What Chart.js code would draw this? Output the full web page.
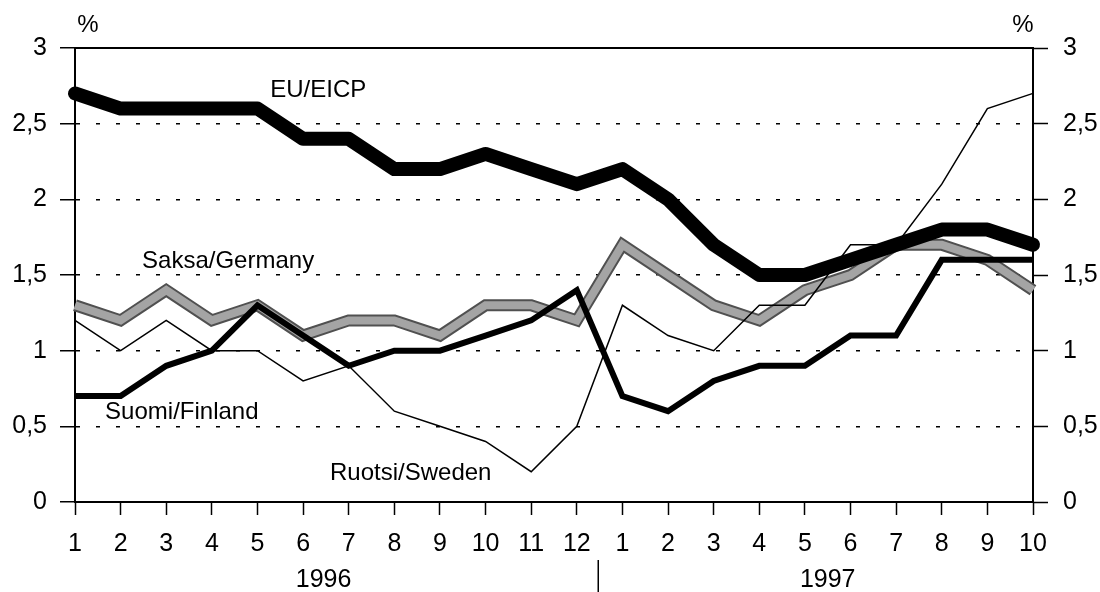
<!DOCTYPE html>
<html>
<head>
<meta charset="utf-8">
<script src="https://cdn.jsdelivr.net/npm/chart.js@4.4.0/dist/chart.umd.min.js"></script>
<style>
  html, body { margin: 0; padding: 0; background: #fff; }
  #wrap { width: 1100px; height: 592px; }
</style>
</head>
<body>
<div id="wrap"><canvas id="myChart" width="1100" height="592"></canvas></div>
<script>
// months 1996/1 .. 1997/10
const months = ['1','2','3','4','5','6','7','8','9','10','11','12',
                '1','2','3','4','5','6','7','8','9','10'];
const years = ['1996', '1997'];
const yTicks = [0, 0.5, 1, 1.5, 2, 2.5, 3];

const euEicp  = [2.7, 2.6, 2.6, 2.6, 2.6, 2.4, 2.4, 2.2, 2.2, 2.3, 2.2, 2.1,
                 2.2, 2.0, 1.7, 1.5, 1.5, 1.6, 1.7, 1.8, 1.8, 1.7];
const germany = [1.3, 1.2, 1.4, 1.2, 1.3, 1.1, 1.2, 1.2, 1.1, 1.3, 1.3, 1.2,
                 1.7, 1.5, 1.3, 1.2, 1.4, 1.5, 1.7, 1.7, 1.6, 1.4];
const finland = [0.7, 0.7, 0.9, 1.0, 1.3, 1.1, 0.9, 1.0, 1.0, 1.1, 1.2, 1.4,
                 0.7, 0.6, 0.8, 0.9, 0.9, 1.1, 1.1, 1.6, 1.6, 1.6];
const sweden  = [1.2, 1.0, 1.2, 1.0, 1.0, 0.8, 0.9, 0.6, 0.5, 0.4, 0.2, 0.5,
                 1.3, 1.1, 1.0, 1.3, 1.3, 1.7, 1.7, 2.1, 2.6, 2.7];

// series names placed inside the plot (x index, y value of left-middle point)
const seriesLabels = [
  { text: 'EU/EICP',       x: 4.28, y: 2.72 },
  { text: 'Saksa/Germany', x: 1.47, y: 1.59 },
  { text: 'Suomi/Finland', x: 0.66, y: 0.59 },
  { text: 'Ruotsi/Sweden', x: 5.59, y: 0.19 }
];

const FONT = "'Liberation Sans', Arial, sans-serif";

function fmt(v) {
  return String(v).replace('.', ',');
}

const extras = {
  id: 'extras',
  afterDraw(chart) {
    const ctx = chart.ctx;
    const xs = chart.scales.x;
    const ys = chart.scales.y;
    const area = chart.chartArea;
    const step = xs.getPixelForValue(1) - xs.getPixelForValue(0);
    ctx.save();
    ctx.fillStyle = '#000';
    ctx.textBaseline = 'middle';
    ctx.font = '24px ' + FONT;
    ctx.textAlign = 'left';
    seriesLabels.forEach(l => {
      const px = xs.getPixelForValue(0) + step * l.x;
      ctx.fillText(l.text, px, ys.getPixelForValue(l.y));
    });

    // year labels under the months
    ctx.textAlign = 'center';
    ctx.font = '25px ' + FONT;
    ctx.fillText(years[0], xs.getPixelForValue(5) + step * 0.45, 580);
    ctx.fillText(years[1], xs.getPixelForValue(16) + step * 0.5, 580);

    // separator between the years
    const sx = xs.getPixelForValue(11) + step * 0.47;
    ctx.strokeStyle = '#000';
    ctx.lineWidth = 1.5;
    ctx.beginPath();
    ctx.moveTo(sx, 560);
    ctx.lineTo(sx, 592);
    ctx.stroke();

    // % signs
    ctx.font = '24px ' + FONT;
    ctx.fillText('%', area.left + 13, 25);
    ctx.fillText('%', area.right - 10, 25);
    ctx.restore();
  }
};

const ctx = document.getElementById('myChart').getContext('2d');
const myChart = new Chart(ctx, {
  type: 'line',
  data: {
    labels: months,
    datasets: [
      { label: 'EU/EICP', data: euEicp, borderColor: '#000', borderWidth: 14,
        borderCapStyle: 'round', borderJoinStyle: 'round' },
      { label: 'Suomi/Finland', data: finland, borderColor: '#000', borderWidth: 6,
        borderJoinStyle: 'miter' },
      { label: 'Ruotsi/Sweden', data: sweden, borderColor: '#000', borderWidth: 1.5 },
      { label: 'Saksa/Germany', data: germany, borderColor: '#a4a4a4', borderWidth: 8,
        borderJoinStyle: 'miter' },
      { label: 'Saksa/Germany edge', data: germany, borderColor: '#505050', borderWidth: 12,
        borderJoinStyle: 'miter' }
    ]
  },
  options: {
    responsive: false,
    animation: false,
    devicePixelRatio: 1,
    layout: { padding: { top: 48 } },
    elements: {
      point: { radius: 0 },
      line: { tension: 0, fill: false }
    },
    datasets: { line: { clip: false } },
    plugins: {
      legend: { display: false },
      tooltip: { enabled: false }
    },
    scales: {
      x: {
        offset: false,
        afterFit: s => { s.height = 90; },
        border: { display: true, color: '#000', width: 2 },
        grid: { drawOnChartArea: false, drawTicks: true, tickLength: 13,
                tickColor: '#000', tickWidth: 1.5 },
        ticks: { color: '#000', font: { family: FONT, size: 25 }, padding: 14,
                 maxRotation: 0, autoSkip: false }
      },
      top: {
        type: 'category',
        position: 'top',
        labels: months,
        offset: false,
        afterFit: s => { s.height = 0; },
        border: { display: true, color: '#000', width: 2 },
        grid: { display: false },
        ticks: { display: false }
      },
      y: {
        position: 'left',
        min: 0, max: 3,
        afterFit: s => { s.width = 75; },
        afterBuildTicks: s => { s.ticks = yTicks.map(v => ({ value: v })); },
        border: { display: true, color: '#000', width: 2,
                  dash: c => (c.tick && (c.tick.value === 0 || c.tick.value === 3)) ? [] : [4, 16] },
        grid: { color: '#000', lineWidth: 1.5, drawTicks: true, tickLength: 15,
                tickColor: '#000', tickWidth: 1.5, tickBorderDash: [] },
        ticks: { color: '#000', font: { family: FONT, size: 25 }, padding: 13,
                 callback: v => fmt(v) }
      },
      y2: {
        position: 'right',
        min: 0, max: 3,
        afterFit: s => { s.width = 67; },
        afterBuildTicks: s => { s.ticks = yTicks.map(v => ({ value: v })); },
        border: { display: true, color: '#000', width: 2 },
        grid: { drawOnChartArea: false, drawTicks: true, tickLength: 15,
                tickColor: '#000', tickWidth: 1.5 },
        ticks: { color: '#000', font: { family: FONT, size: 25 }, padding: 15,
                 callback: v => fmt(v) }
      }
    }
  },
  plugins: [extras]
});
</script>
</body>
</html>
